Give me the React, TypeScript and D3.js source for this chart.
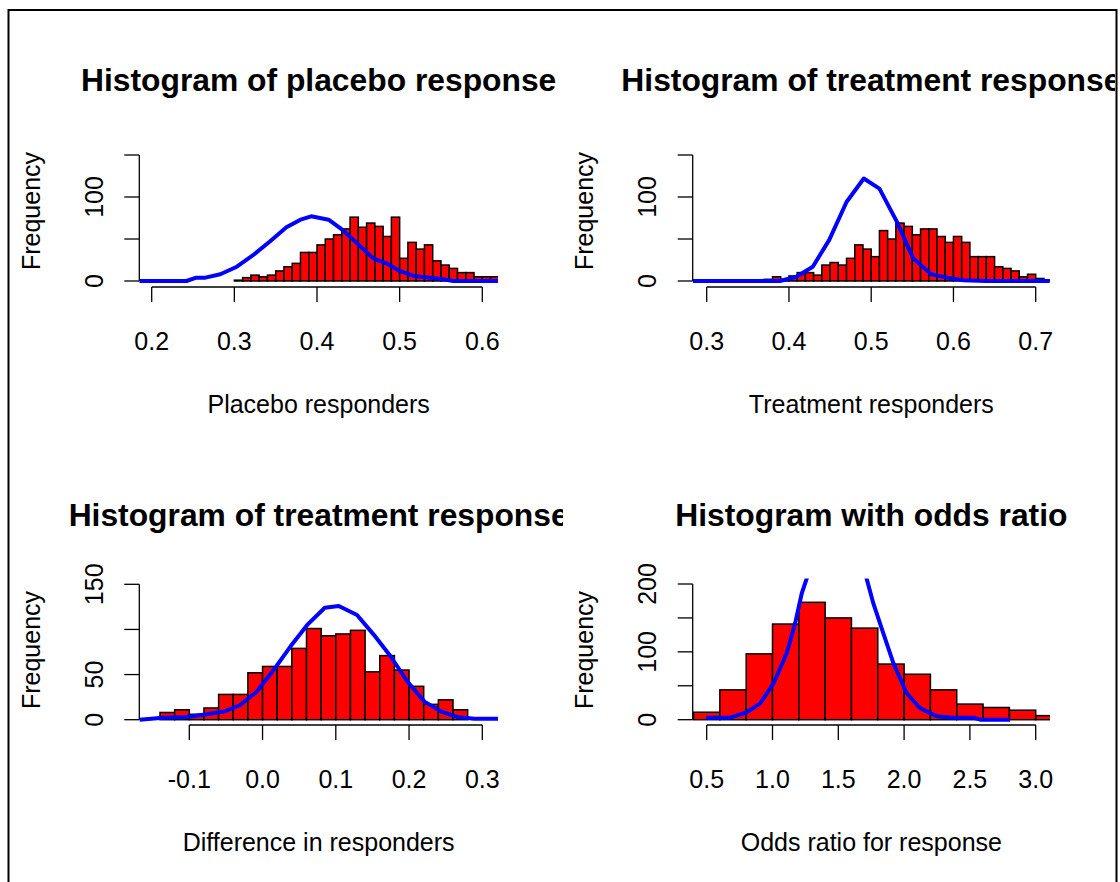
import React from "react";
import { scaleLinear, line } from "d3";

// histogram counts
const placeboStart = 0.3;
const placeboWidth = 0.01;
const placeboCounts = [1, 4, 7, 5, 7, 12, 17, 21, 34, 34, 43, 50, 55, 62, 76, 64, 69, 65, 53, 76, 27, 46, 38, 43, 24, 19, 15, 10, 10, 5, 5, 5];
const placeboCurveX = [0.185, 0.242, 0.254, 0.265, 0.283, 0.303, 0.323, 0.343, 0.363, 0.38, 0.393, 0.414, 0.428, 0.444, 0.468, 0.484, 0.5, 0.517, 0.537, 0.553, 0.565, 0.619];
const placeboCurveY = [0, 0, 4, 4, 8, 17, 31, 47, 64, 73, 77, 73, 63, 49, 27, 21, 12, 6, 4, 2, 0, 0];

const treatStart = 0.37;
const treatWidth = 0.01;
const treatCounts = [2, 5, 2, 6, 10, 10, 7, 19, 22, 19, 27, 43, 38, 29, 60, 50, 69, 65, 55, 62, 62, 53, 46, 53, 46, 29, 29, 29, 17, 15, 12, 5, 8, 3, 1];
const treatCurveX = [0.283, 0.389, 0.409, 0.429, 0.449, 0.47, 0.491, 0.51, 0.531, 0.551, 0.573, 0.592, 0.612, 0.64, 0.717];
const treatCurveY = [0, 0, 5, 17, 49, 94, 122, 110, 71, 27, 8, 4, 1, 0, 0];

const diffStart = -0.14;
const diffWidth = 0.02;
const diffCounts = [8, 11, 6, 13, 28, 28, 52, 59, 59, 79, 101, 93, 95, 99, 53, 71, 55, 37, 17, 22, 11];
const diffCurveX = [-0.168, -0.14, -0.104, -0.076, -0.053, -0.031, -0.008, 0.015, 0.038, 0.061, 0.085, 0.104, 0.129, 0.152, 0.175, 0.198, 0.221, 0.244, 0.266, 0.289, 0.322];
const diffCurveY = [0, 2, 3, 6, 9, 16, 31, 55, 81, 105, 124, 126, 116, 94, 70, 42, 20, 9, 3, 1, 1];

const oddsStart = 0.4;
const oddsWidth = 0.2;
const oddsCounts = [11, 44, 97, 141, 173, 150, 135, 82, 67, 44, 23, 18, 14, 6];
const oddsCurveX = [0.495, 0.678, 0.805, 0.906, 1.007, 1.108, 1.172, 1.222, 1.265, 1.35, 1.45, 1.55, 1.65, 1.711, 1.767, 1.843, 1.919, 2.02, 2.121, 2.248, 2.374, 2.526, 2.577, 2.805];
const oddsCurveY = [3, 3, 11, 24, 53, 98, 142, 186, 211, 260, 285, 280, 245, 211, 171, 127, 83, 39, 17, 5, 3, 3, 0, 0];

const placeboTicks = [0.2, 0.3, 0.4, 0.5, 0.6];
const treatTicks = [0.3, 0.4, 0.5, 0.6, 0.7];
const diffTicks = [-0.1, 0.0, 0.1, 0.2, 0.3];
const oddsTicks = [0.5, 1.0, 1.5, 2.0, 2.5, 3.0];

const yTicks150 = [0, 50, 100, 150];
const yTicks200 = [0, 50, 100, 150, 200];

const FONT = "'Liberation Sans', Arial, Helvetica, sans-serif";

const panels = [
  {
    id: "p1", title: "Histogram of placebo response", xlab: "Placebo responders",
    start: placeboStart, width: placeboWidth, counts: placeboCounts, cx: placeboCurveX, cy: placeboCurveY,
    xTicks: placeboTicks, yTicks: yTicks150, yLabels: [0, 100],
    xd: [0.2, 0.6], xr: [151.7, 482.3], yd: [0, 150], yr: [281, 155],
    box: [139.3, 150, 498, 287], titleY: 91, titleClip: 563, ylabY: 211, dx: 0,
  },
  {
    id: "p2", title: "Histogram of treatment response", xlab: "Treatment responders",
    start: treatStart, width: treatWidth, counts: treatCounts, cx: treatCurveX, cy: treatCurveY,
    xTicks: treatTicks, yTicks: yTicks150, yLabels: [0, 100],
    xd: [0.3, 0.7], xr: [706.7, 1035.7], yd: [0, 150], yr: [281, 155],
    box: [692.7, 150, 1050, 287], titleY: 91, titleClip: 1115, ylabY: 211, dx: 553.4,
  },
  {
    id: "p3", title: "Histogram of treatment response", xlab: "Difference in responders",
    start: diffStart, width: diffWidth, counts: diffCounts, cx: diffCurveX, cy: diffCurveY,
    xTicks: diffTicks, yTicks: yTicks150, yLabels: [0, 50, 150],
    xd: [-0.1, 0.3], xr: [189.3, 482.3], yd: [0, 150], yr: [719.7, 584.3],
    box: [139.3, 579, 498, 725], titleY: 526, titleClip: 563, ylabY: 650, dx: 0,
  },
  {
    id: "p4", title: "Histogram with odds ratio", xlab: "Odds ratio for response",
    start: oddsStart, width: oddsWidth, counts: oddsCounts, cx: oddsCurveX, cy: oddsCurveY,
    xTicks: oddsTicks, yTicks: yTicks200, yLabels: [0, 100, 200],
    xd: [0.5, 3.0], xr: [706.7, 1035.7], yd: [0, 200], yr: [719.7, 584],
    box: [692.7, 578.6, 1050, 725], titleY: 526, titleClip: 1115, ylabY: 650, dx: 553.4,
  },
];

const fmt = (v: number) => v.toFixed(1);

function Panel({ p }: { p: any }) {
  const x = scaleLinear().domain(p.xd).range(p.xr);
  const y = scaleLinear().domain(p.yd).range(p.yr);
  const [bx0, by0, bx1, by1] = p.box;
  const cx = (bx0 + bx1) / 2;
  const curve = line<number>()
    .x((d, i) => x(p.cx[i]))
    .y((d) => y(d));
  const axisY = by1;
  const xt = p.xTicks;
  const yt = p.yTicks;
  return (
    <g>
      <defs>
        <clipPath id={p.id + "-clip"}>
          <rect x={bx0} y={by0} width={bx1 - bx0} height={by1 - by0} />
        </clipPath>
        <clipPath id={p.id + "-tclip"}>
          <rect x={0} y={0} width={p.titleClip} height={882} />
        </clipPath>
      </defs>
      <g clipPath={`url(#${p.id}-clip)`}>
        {p.counts.map((c: number, i: number) => {
          const x0 = x(p.start + i * p.width);
          const x1 = x(p.start + (i + 1) * p.width);
          return (
            <rect key={i} x={x0} y={y(c)} width={x1 - x0} height={y(0) - y(c)}
              fill="#ff0000" stroke="#000" strokeWidth={1.5} />
          );
        })}
        <path d={curve(p.cy) || ""} fill="none" stroke="#0000ff" strokeWidth={4} strokeLinejoin="round" />
      </g>
      {/* axes */}
      <g stroke="#000" strokeWidth={1.3}>
        <line x1={x(xt[0])} x2={x(xt[xt.length - 1])} y1={axisY} y2={axisY} />
        {xt.map((t: number) => (
          <line key={t} x1={x(t)} x2={x(t)} y1={axisY} y2={axisY + 15} />
        ))}
        <line x1={bx0} x2={bx0} y1={y(yt[0])} y2={y(yt[yt.length - 1])} />
        {yt.map((t: number) => (
          <line key={t} x1={bx0 - 15} x2={bx0} y1={y(t)} y2={y(t)} />
        ))}
      </g>
      <g fontFamily={FONT} fontSize={25} fill="#000">
        {xt.map((t: number) => (
          <text key={t} x={x(t)} y={axisY + 63} textAnchor="middle">{fmt(t)}</text>
        ))}
        {p.yLabels.map((t: number) => (
          <text key={t} transform={`translate(${103 + p.dx},${y(t)}) rotate(-90)`} textAnchor="middle">{t}</text>
        ))}
        <text x={cx} y={axisY + 126} textAnchor="middle">{p.xlab}</text>
        <text transform={`translate(${39.5 + p.dx},${p.ylabY}) rotate(-90)`} textAnchor="middle">Frequency</text>
      </g>
      <g clipPath={`url(#${p.id}-tclip)`}>
        <text x={cx} y={p.titleY} textAnchor="middle" fontFamily={FONT} fontSize={31.8} fontWeight="bold">{p.title}</text>
      </g>
    </g>
  );
}

export default function App() {
  return (
    <svg width={1120} height={882} style={{ position: "absolute", left: 0, top: 0, background: "#fff" }}>
      <rect x={0} y={0} width={1120} height={882} fill="#fff" />
      {panels.map((p) => (
        <Panel key={p.id} p={p} />
      ))}
      <path d="M8.5,882 V10 H1116.5 V882" fill="none" stroke="#000" strokeWidth={2} />
    </svg>
  );
}
